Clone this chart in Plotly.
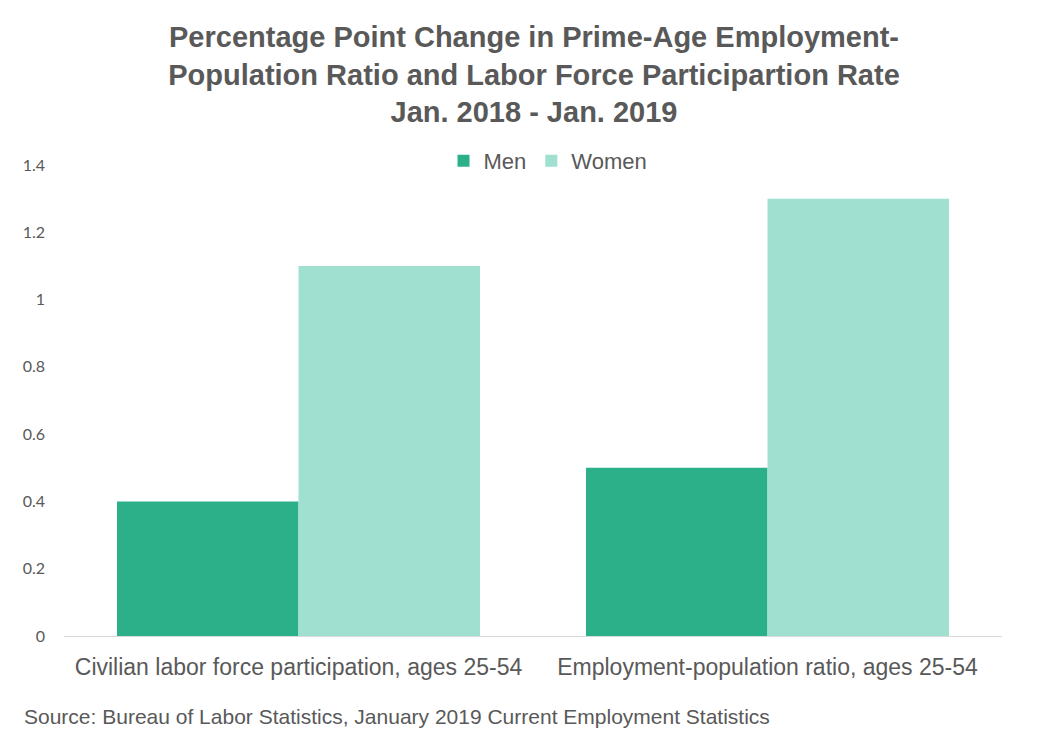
import plotly.graph_objects as go

categories = ["Civilian labor force participation, ages 25-54", "Employment-population ratio, ages 25-54"]
men = [0.4, 0.5]
women = [1.1, 1.3]
series_names = ["Men", "Women"]
tick_vals = [0, 0.2, 0.4, 0.6, 0.8, 1.0, 1.2, 1.4]
tick_text = ["0", "0.2", "0.4", "0.6", "0.8", "1", "1.2", "1.4"]
title_lines = ["Percentage Point Change in Prime-Age Employment-",
               "Population Ratio and Labor Force Participartion Rate",
               "Jan. 2018 - Jan. 2019"]
source = "Source: Bureau of Labor Statistics, January 2019 Current Employment Statistics"

W, H = 1052, 746
fig = go.Figure()
fig.add_trace(go.Bar(x=categories, y=men, name=series_names[0], marker_color="#2bb089",
                     marker_line_width=0))
fig.add_trace(go.Bar(x=categories, y=women, name=series_names[1], marker_color="#a0e0d0",
                     marker_line_width=0))

fig.update_layout(
    width=W, height=H,
    margin=dict(l=56, r=58, t=157, b=118),
    paper_bgcolor="white", plot_bgcolor="white",
    barmode="group", bargap=0.226, bargroupgap=0,
    font=dict(family="Liberation Sans, Arial, sans-serif", color="#595959"),
    title=dict(text="<br>".join(title_lines), x=0.5, xanchor="center",
               xref="container", yref="container", y=1 - 39 / H, yanchor="middle",
               font=dict(size=29, color="#595959", family="Liberation Sans, Arial, sans-serif",
                         weight="bold")),
    showlegend=True,
    legend=dict(orientation="h", x=0.516, xanchor="center", y=1.0085, yanchor="middle",
                font=dict(size=22, color="#595959"), traceorder="normal"),
    xaxis=dict(showgrid=False, showline=True, linecolor="#d9d9d9", linewidth=1,
               tickfont=dict(size=23, color="#595959"), ticks="", ticklabelstandoff=10),
    yaxis=dict(range=[0, 1.4], tickvals=tick_vals, ticktext=tick_text, showgrid=False,
               zeroline=False, showline=False, ticks="",
               tickfont=dict(size=16, color="#595959", family="Lato, Open Sans, sans-serif"),
               ticklabelstandoff=18),
)
fig.add_annotation(text=source, xref="paper", yref="paper", x=-0.0448, xanchor="left",
                   y=-0.170, yanchor="middle", showarrow=False,
                   font=dict(size=21, color="#595959"))

fig.write_html("out.html")
